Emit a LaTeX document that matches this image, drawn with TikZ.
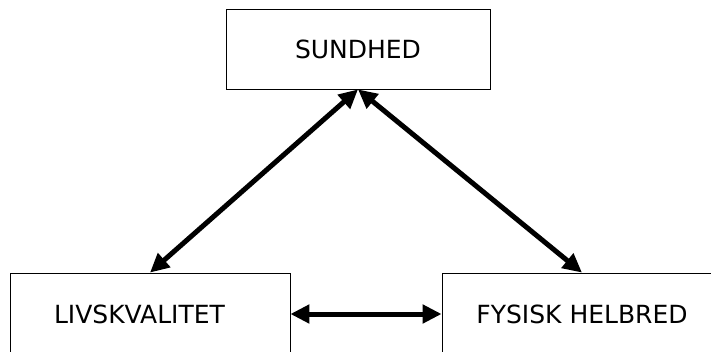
\documentclass[tikz,border=0pt]{standalone}
\usepackage{fontspec}
\setmainfont{DejaVu Sans}
\usetikzlibrary{shapes,arrows.meta,positioning}

\begin{document}
\begin{tikzpicture}[x=1pt,y=-1pt,
	boks/.style={draw=black,rectangle,line width=0.8pt,font=\fontsize{25pt}{30pt}\selectfont},
	pil/.style={{Triangle[length=19pt,width=18pt]}-{Triangle[length=19pt,width=18pt]},line width=5pt}]
	\useasboundingbox (0,0) rectangle (711,351);
	%% the boxes
	\node[boks,minimum width=264pt,minimum height=80pt] (sundhed) at (358,49) {SUNDHED};
	\node[boks,text width=192pt,align=left,inner xsep=44pt,minimum height=82pt] (livskvalitet) at (150,314) {LIVSKVALITET};
	\node[boks,minimum width=280pt,minimum height=82pt] (helbred) at (582,314) {FYSISK HELBRED};
	%% the arrows
	\draw[pil] (sundhed.south) -- (livskvalitet.north);
	\draw[pil] (sundhed.south) -- (helbred.north);
	\draw[pil] (livskvalitet.east) -- (helbred.west);
\end{tikzpicture}
\end{document}
